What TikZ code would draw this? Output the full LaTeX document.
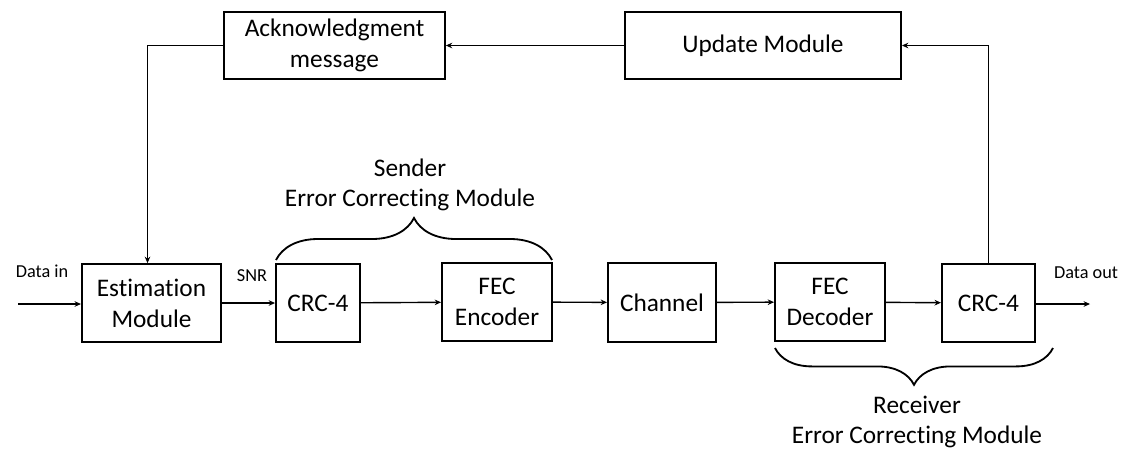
\documentclass[tikz,border=0pt]{standalone}
\usepackage{fontspec}
\setmainfont[RawFeature={-liga;-calt;-clig;-dlig}]{Carlito}
\usepackage{tikz}
\usetikzlibrary{arrows.meta,positioning,calc,decorations.pathreplacing}
\tikzset{
  blk/.style={draw,line width=1.3pt,align=center,font=\fontsize{18}{22}\selectfont,inner sep=2pt},
  arr/.style={-{Stealth[length=1.6mm,width=1.4mm]},line width=1pt},
  lbl/.style={font=\fontsize{13}{15}\selectfont,inner sep=0pt},
  grp/.style={align=center,font=\fontsize{18}{21}\selectfont,inner sep=0pt},
  brc/.style={decorate,decoration={brace,amplitude=#1},line width=1.3pt}
}

\begin{document}
\begin{tikzpicture}[x=0.025cm,y=-0.025cm]
\useasboundingbox (0,0) rectangle (1124,450);
% feedback row
\node[blk,minimum width=5.52cm,minimum height=1.68cm] (ack) at (334.5,45.5) {Acknowledgment\\message};
\node[blk,minimum width=6.9cm,minimum height=1.68cm] (upd) at (763,45.5) {Update Module};
% main chain
\node[blk,minimum width=3.48cm,minimum height=1.95cm] (est) at (151.5,303) {Estimation\\Module};
\node[blk,minimum width=2.1cm,minimum height=1.95cm] (crca) at (318,303) {CRC-4};
\node[blk,minimum width=2.75cm,minimum height=1.95cm] (enc) at (497,302) {FEC\\Encoder};
\node[blk,minimum width=2.7cm,minimum height=1.97cm] (chan) at (662,302.5) {Channel};
\node[blk,minimum width=2.75cm,minimum height=1.95cm] (dec) at (830,302) {FEC\\Decoder};
\node[blk,minimum width=2.33cm,minimum height=1.95cm] (crcb) at (988.5,303) {CRC-4};
\coordinate (din) at (18,304);
\coordinate (dout) at (1090,304);
\node[lbl] (lin) at (42,271) {Data in};
\node[lbl] (lsnr) at (252,276) {SNR};
\node[lbl] (lout) at (1086,273) {Data out};
\draw[arr] (din) -- (est.west |- din);
\draw[arr] (est) -- (crca);
\draw[arr] (crca) -- (enc);
\draw[arr] (enc) -- (chan);
\draw[arr] (chan) -- (dec);
\draw[arr] (dec) -- (crcb);
\draw[arr] (crcb.east |- dout) -- (dout);
% acknowledgement loop
\draw[arr] (crcb.north) |- (upd.east);
\draw[arr] (upd) -- (ack);
\draw[arr] (ack.west) -| ([xshift=-1mm]est.north);
% braces
\draw[brc=1.05cm] (276,260) -- (552,260);
\node[grp] (snd) at (410,185) {Sender\\Error Correcting Module};
\draw[brc=0.92cm] (1053,348) -- (775,348);
\node[grp] (rcv) at (917,422) {Receiver\\Error Correcting Module};
\end{tikzpicture}
\end{document}
